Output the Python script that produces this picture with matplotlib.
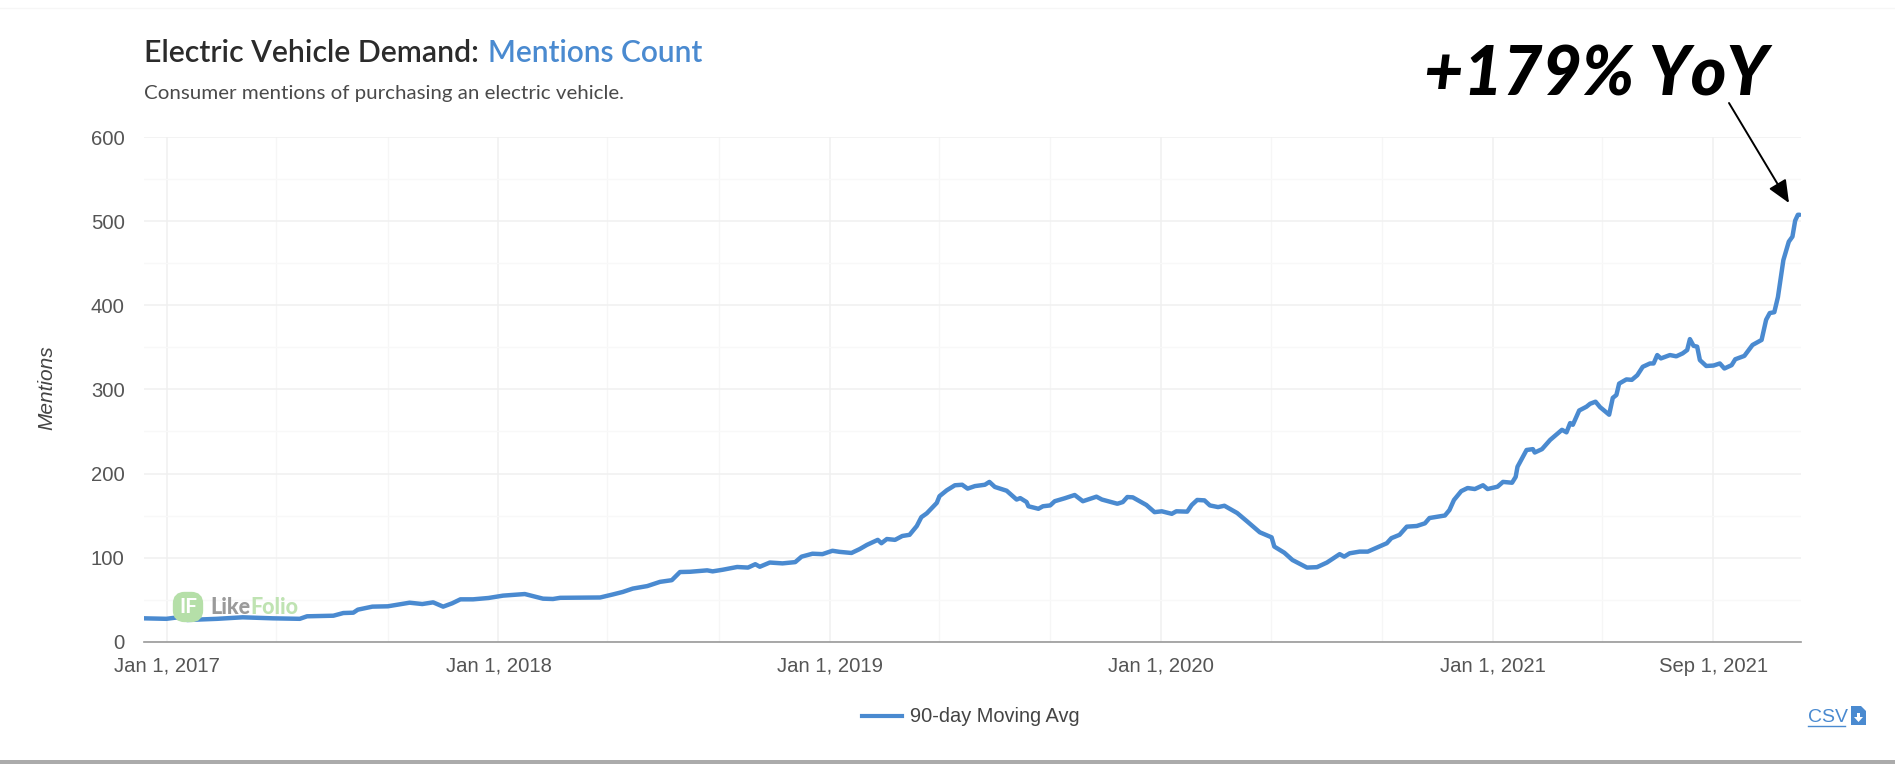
import matplotlib
matplotlib.use("Agg")
import matplotlib.pyplot as plt
import pandas as pd
from matplotlib.patches import FancyBboxPatch, Rectangle, Polygon

W, H = 1895, 764

# Days counted from the first labelled date, and the 90-day average on those days
start_date = pd.Timestamp("2017-01-01")
day_offsets = [
    -26, -1, 17, 22, 55, 83, 116, 146, 154, 183, 194, 205, 210, 226, 243, 267, 281, 293, 304, 314,
    323, 337, 354, 370, 394, 403, 414, 425, 433, 477, 491, 502, 513, 529, 543, 556, 565, 576, 595, 601,
    612, 628, 640, 648, 653, 664, 678, 692, 699, 711, 722, 733, 741, 754, 763, 771, 783, 787, 793, 802,
    810, 818, 826, 831, 837, 848, 851, 859, 868, 876, 882, 890, 901, 906, 912, 925, 936, 940, 947, 949,
    960, 965, 973, 978, 989, 1000, 1009, 1024, 1030, 1047, 1053, 1058, 1064, 1079, 1088, 1096, 1107, 1112, 1124, 1129,
    1135, 1143, 1149, 1158, 1165, 1179, 1190, 1204, 1217, 1220, 1231, 1240, 1256, 1267, 1278, 1292, 1297, 1303, 1314, 1323,
    1344, 1349, 1358, 1366, 1377, 1386, 1391, 1408, 1413, 1418, 1426, 1433, 1441, 1450, 1455, 1466, 1472, 1482, 1486, 1488,
    1498, 1505, 1507, 1515, 1524, 1537, 1542, 1546, 1549, 1556, 1564, 1568, 1574, 1579, 1589, 1593, 1597, 1600, 1608, 1614,
    1620, 1626, 1634, 1638, 1642, 1646, 1656, 1663, 1670, 1675, 1678, 1682, 1686, 1689, 1696, 1704, 1711, 1716, 1724, 1728,
    1738, 1747, 1757, 1762, 1766, 1771, 1775, 1781, 1787, 1791, 1794, 1797, 1799,
]
moving_avg = [
    27.6, 27, 29.5, 25.6, 27, 28.8, 27.6, 27, 30, 30.7, 33.9, 34.3, 37.9, 41.5, 41.9, 46.2, 44.6, 46.6, 41.5, 45.5,
    50.2, 50.2, 51.8, 54.6, 56.5, 54, 51, 50.6, 52, 52.4, 56, 59, 63, 66, 71, 73, 82.7, 83, 84.7, 83.5,
    85.4, 88.7, 88, 92, 89, 94, 93, 94.5, 101, 104.5, 104, 108, 106.7, 105.4, 110, 115, 121, 117, 122, 121,
    125.6, 127, 137.5, 148, 152.6, 165, 173, 180, 186, 186.6, 182, 185, 186.6, 190, 184, 179.5, 169, 170.7, 166, 161,
    158, 161, 162, 167, 170.5, 174.4, 167, 172.4, 169, 164, 166, 172, 171.6, 162.5, 154, 155, 152, 155, 154.6, 162.5,
    168.5, 168, 162, 160, 161.6, 153, 143, 130, 124, 113, 105.7, 97, 88, 88.5, 94, 104, 101, 105, 107, 107,
    117, 123, 127, 136.7, 137.5, 140.7, 147, 150, 156.5, 168.5, 179, 182.7, 181.5, 186, 181.5, 184.3, 190, 189, 196, 208,
    228, 229, 225, 229, 240, 252, 249, 260, 258, 275, 279.5, 283, 285.5, 279, 270, 290, 293.5, 307, 312, 311.5,
    317, 327, 331, 331, 341, 337, 341, 339.5, 343, 347, 360, 352, 351, 335, 328, 328.5, 331, 325, 329, 336,
    340, 353, 359, 383, 391, 392, 410, 454, 476, 482, 501, 508, 508,
]
dates = [start_date + pd.Timedelta(days=d) for d in day_offsets]

y_ticks = [0, 100, 200, 300, 400, 500, 600]
y_minor_ticks = [50, 150, 250, 350, 450, 550]
x_labelled = ["2017-01-01", "2018-01-01", "2019-01-01", "2020-01-01", "2021-01-01", "2021-09-01"]
x_labels = ["Jan 1, 2017", "Jan 1, 2018", "Jan 1, 2019", "Jan 1, 2020", "Jan 1, 2021", "Sep 1, 2021"]
x_unlabelled = ["2017-05-01", "2017-09-01", "2018-05-01", "2018-09-01", "2019-05-01", "2019-09-01",
                "2020-05-01", "2020-09-01", "2021-05-01"]

LINE_BLUE = "#4a8ad0"
TICK_GREY = "#555555"
SANS = "Liberation Sans"


def fx(x):
    return x / W


def fy(y):
    return 1 - y / H


fig = plt.figure(figsize=(W / 100, H / 100), dpi=100, facecolor="white")
ax = fig.add_axes([fx(144), fy(641.5), (1801 - 144) / W, (641.5 - 137.5) / H])
ax.set_facecolor("none")

px_per_day = (1493 - 167.3) / 1461
x_min = start_date + pd.Timedelta(days=(144 - 167.3) / px_per_day)
x_max = start_date + pd.Timedelta(days=(1801 - 167.3) / px_per_day)
ax.set_xlim(x_min, x_max)
ax.set_ylim(0, 600)

ax.set_xticks([pd.Timestamp(d) for d in x_labelled])
ax.set_xticklabels(x_labels)
ax.set_xticks([pd.Timestamp(d) for d in x_unlabelled], minor=True)
ax.set_yticks(y_ticks)
ax.set_yticks(y_minor_ticks, minor=True)
ax.tick_params(which="both", length=0)
ax.tick_params(axis="x", which="major", pad=11, labelsize=14.6, labelcolor=TICK_GREY)
ax.tick_params(axis="y", which="major", pad=14, labelsize=14.6, labelcolor=TICK_GREY)
for lbl in ax.get_xticklabels() + ax.get_yticklabels():
    lbl.set_fontfamily(SANS)

ax.grid(True, which="major", color="#f0f0f0", linewidth=1.1)
ax.grid(True, which="minor", axis="y", color="#f8f8f8", linewidth=1.0)
ax.grid(True, which="minor", axis="x", color="#f6f6f6", linewidth=1.0)
ax.set_axisbelow(True)
for side in ("top", "right", "left"):
    ax.spines[side].set_visible(False)
ax.spines["bottom"].set_color("#999999")
ax.spines["bottom"].set_linewidth(1.2)

ax.plot(dates, moving_avg, color=LINE_BLUE, linewidth=3.2, solid_joinstyle="round",
        solid_capstyle="round", zorder=4)

# Brand watermark sitting behind the series line
fig.add_artist(FancyBboxPatch((fx(177), fy(618)), 22 / W, 22 / H, boxstyle="round,pad=0,rounding_size=0.004",
                              transform=fig.transFigure, mutation_aspect=W / H, facecolor="#b5dfa8",
                              edgecolor="#b5dfa8", linewidth=6, zorder=0.5))
fig.text(fx(188), fy(607), "IF", color="white", fontsize=15, fontweight="bold", family="Lato",
         ha="center", va="center", zorder=0.6)
fig.text(fx(210), fy(608), "Like", color="#9a9a9a", fontsize=15.5, fontweight="black", family="Lato",
         ha="left", va="center", zorder=0.6)
fig.text(fx(250), fy(608), "Folio", color="#bfe3b2", fontsize=15.5, fontweight="black", family="Lato",
         ha="left", va="center", zorder=0.6)

# Heading block
fig.text(fx(144), fy(53), "Electric Vehicle Demand:", color="#2b2b2b", fontsize=21.8, family="Lato",
         fontweight="semibold", ha="left", va="center")
fig.text(fx(488), fy(53), "Mentions Count", color=LINE_BLUE, fontsize=21.5, family="Lato",
         fontweight="semibold", ha="left", va="center")
fig.text(fx(144), fy(93), "Consumer mentions of purchasing an electric vehicle.", color="#4a4a4a",
         fontsize=14.75, family="Lato", ha="left", va="center")

fig.text(fx(47), fy(388), "Mentions", color="#444444", fontsize=15, family=SANS, style="italic",
         rotation=90, ha="center", va="center")

# Callout for the year-over-year change
fig.text(fx(1424), fy(76), "+179% YoY", color="black", fontsize=49, family="Lato", fontweight="black",
         style="italic", ha="left", va="center")
ax.annotate("", xy=(fx(1789), fy(203)), xytext=(fx(1729), fy(103)), xycoords="figure fraction",
            textcoords="figure fraction",
            arrowprops=dict(arrowstyle="-|>,head_length=1.15,head_width=0.5", color="black", linewidth=1.4,
                            shrinkA=0, shrinkB=0, mutation_scale=12))

# Legend entry
fig.add_artist(plt.Line2D([fx(862), fx(902)], [fy(716), fy(716)], color=LINE_BLUE, linewidth=3.0))
fig.text(fx(910), fy(717), "90-day Moving Avg", color="#444444", fontsize=14.4, family=SANS,
         ha="left", va="center")

# CSV download link with its file icon
fig.text(fx(1808), fy(717), "CSV", color=LINE_BLUE, fontsize=14.0, family=SANS, ha="left", va="center")
fig.add_artist(plt.Line2D([fx(1808), fx(1845)], [fy(726), fy(726)], color=LINE_BLUE, linewidth=1.0))
fig.add_artist(Polygon([(fx(1851), fy(725)), (fx(1851), fy(706)), (fx(1861), fy(706)), (fx(1866), fy(711)),
                        (fx(1866), fy(725))], closed=True, transform=fig.transFigure, facecolor=LINE_BLUE,
                       edgecolor="none"))
fig.add_artist(Polygon([(fx(1857), fy(713)), (fx(1860), fy(713)), (fx(1860), fy(717)), (fx(1863), fy(717)),
                        (fx(1858.5), fy(722)), (fx(1854), fy(717)), (fx(1857), fy(717))], closed=True,
                       transform=fig.transFigure, facecolor="white", edgecolor="none"))

# Page edges around the card
fig.add_artist(Rectangle((0, 0), 1, 4 / H, transform=fig.transFigure, facecolor="#ababab", edgecolor="none"))
fig.add_artist(plt.Line2D([0, 1], [fy(8), fy(8)], color="#f6f6f6", linewidth=1.0))

fig.savefig("out.png", dpi=100, facecolor="white")
